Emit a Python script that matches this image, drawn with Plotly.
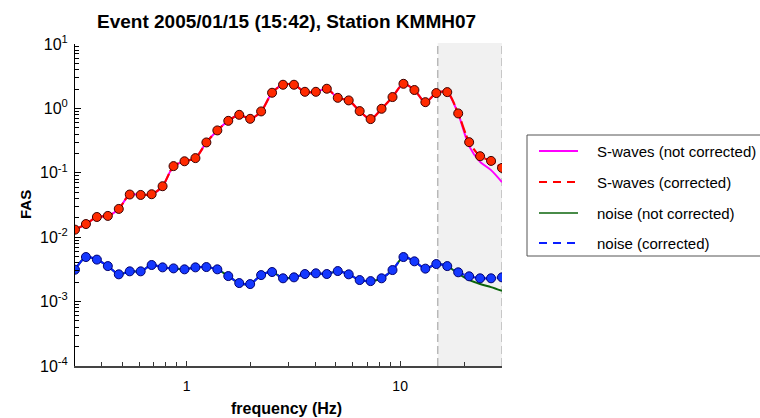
import plotly.graph_objects as go

# ---------------- data ----------------
freq = [0.3000, 0.3376, 0.3799, 0.4275, 0.4811, 0.5414, 0.6092, 0.6856, 0.7715, 0.8682,
        0.9771, 1.0995, 1.2373, 1.3924, 1.5669, 1.7633, 1.9843, 2.2330, 2.5129, 2.8278,
        3.1823, 3.5811, 4.0299, 4.5350, 5.1034, 5.7430, 6.4628, 7.2728, 8.1843, 9.2101,
        10.365, 11.664, 13.126, 14.771, 16.622, 18.706, 21.050, 23.688, 26.658, 30.000]

swave_corr = [0.0131, 0.0160, 0.0206, 0.0214, 0.0275, 0.0460, 0.0453, 0.0465, 0.0619, 0.127,
              0.151, 0.169, 0.296, 0.455, 0.641, 0.795, 0.689, 0.898, 1.75, 2.33,
              2.33, 1.81, 1.81, 2.02, 1.46, 1.33, 0.908, 0.682, 0.986, 1.50,
              2.41, 1.93, 1.25, 1.73, 1.79, 0.836, 0.299, 0.181, 0.153, 0.119]

swave_nc = [0.0131, 0.0160, 0.0206, 0.0214, 0.0275, 0.0460, 0.0453, 0.0465, 0.0619, 0.127,
            0.151, 0.169, 0.296, 0.455, 0.641, 0.795, 0.689, 0.898, 1.75, 2.33,
            2.33, 1.81, 1.81, 2.02, 1.46, 1.33, 0.908, 0.682, 0.986, 1.50,
            2.41, 1.93, 1.25, 1.73, 1.78, 0.820, 0.260, 0.148, 0.110, 0.0714]

noise_corr = [0.00313, 0.00492, 0.00449, 0.00356, 0.00265, 0.00295, 0.00295, 0.00370, 0.00340, 0.00328,
              0.00317, 0.00340, 0.00344, 0.00317, 0.00249, 0.00194, 0.00187, 0.00258, 0.00288, 0.00230,
              0.00238, 0.00268, 0.00275, 0.00268, 0.00298, 0.00265, 0.00216, 0.00208, 0.00230, 0.00309,
              0.00492, 0.00422, 0.00325, 0.00383, 0.00356, 0.00285, 0.00247, 0.00230, 0.00230, 0.00238]

noise_nc = [0.00313, 0.00492, 0.00449, 0.00356, 0.00265, 0.00295, 0.00295, 0.00370, 0.00340, 0.00328,
            0.00317, 0.00340, 0.00344, 0.00317, 0.00249, 0.00194, 0.00187, 0.00258, 0.00288, 0.00230,
            0.00238, 0.00268, 0.00275, 0.00268, 0.00298, 0.00265, 0.00216, 0.00208, 0.00230, 0.00309,
            0.00492, 0.00422, 0.00325, 0.00383, 0.00356, 0.00272, 0.00218, 0.00188, 0.00168, 0.00147]

y_tickvals = [1e-4, 1e-3, 1e-2, 1e-1, 1e0, 1e1]
y_ticktext = ["10<sup>-4</sup>", "10<sup>-3</sup>", "10<sup>-2</sup>",
              "10<sup>-1</sup>", "10<sup>0</sup>", "10<sup>1</sup>"]
x_tickvals = [1, 10]
x_ticktext = ["1", "10"]
x_minor = [0.4, 0.5, 0.6, 0.7, 0.8, 0.9, 2, 3, 4, 5, 6, 7, 8, 9, 20]
y_minor = [m * d for d in [1e-4, 1e-3, 1e-2, 1e-1, 1e0] for m in range(2, 10)]

legend_labels = ["S-waves (not corrected)", "S-waves (corrected)",
                 "noise (not corrected)", "noise (corrected)"]

band = [15, 30]

# ---------------- layout geometry ----------------
W, H = 760, 418
L, R, T, B = 75, 258, 44, 52
PW, PH = W - L - R, H - T - B


def px(x):
    return (x - L) / PW


def py(y):
    return (H - B - y) / PH


FONT = "Liberation Sans, Arial, sans-serif"

MAG = "#ff00ff"
RED = "#ff0000"
GRN = "#0b650b"
BLU = "#0a1eff"

fig = go.Figure()

fig.add_trace(go.Scatter(x=freq, y=swave_nc, mode="lines", showlegend=False,
                         line=dict(color=MAG, width=2, shape="spline", smoothing=0.8)))
fig.add_trace(go.Scatter(x=freq, y=swave_corr, mode="lines", showlegend=False,
                         line=dict(color=RED, width=2.2, shape="spline", smoothing=0.8,
                                   dash="12px,3px")))
fig.add_trace(go.Scatter(x=freq, y=noise_nc, mode="lines", showlegend=False,
                         line=dict(color=GRN, width=2, shape="spline", smoothing=0.8)))
fig.add_trace(go.Scatter(x=freq, y=noise_corr, mode="lines", showlegend=False,
                         line=dict(color=BLU, width=2.2, shape="spline", smoothing=0.8,
                                   dash="12px,3px")))
fig.add_trace(go.Scatter(x=freq, y=swave_corr, mode="markers", showlegend=False,
                         marker=dict(size=9, color="#ff2a00",
                                     line=dict(color="#3a0000", width=1))))
fig.add_trace(go.Scatter(x=freq, y=noise_corr, mode="markers", showlegend=False,
                         marker=dict(size=9, color="#1438ff",
                                     line=dict(color="#000070", width=1))))

shapes = [
    dict(type="rect", xref="x", yref="paper", x0=band[0], x1=band[1], y0=0, y1=1.003,
         fillcolor="#f1f1f1", line=dict(width=0), layer="below"),
    dict(type="line", xref="x", yref="paper", x0=band[0], x1=band[0], y0=0, y1=1.003,
         line=dict(color="#b8b8b8", width=1.5, dash="8px,4px"), layer="below"),
    dict(type="line", xref="x", yref="paper", x0=band[1], x1=band[1], y0=0, y1=1.003,
         line=dict(color="#b8b8b8", width=1.5, dash="8px,4px"), layer="below"),
    # legend box
    dict(type="rect", xref="paper", yref="paper", x0=px(527), x1=px(790),
         y0=py(256), y1=py(135), fillcolor="white", line=dict(color="#555555", width=1)),
]

leg_y = [151, 182, 213, 243]
leg_styles = [dict(color=MAG, width=2),
              dict(color=RED, width=2, dash="8px,6px"),
              dict(color=GRN, width=1.5),
              dict(color=BLU, width=2, dash="8px,6px")]
annotations = []
for lbl, yy, st in zip(legend_labels, leg_y, leg_styles):
    shapes.append(dict(type="line", xref="paper", yref="paper", x0=px(539), x1=px(578),
                       y0=py(yy), y1=py(yy), line=st))
    annotations.append(dict(xref="paper", yref="paper", x=px(595), y=py(yy),
                            xanchor="left", yanchor="middle", showarrow=False, text=lbl,
                            font=dict(family=FONT, size=15, color="black")))

annotations += [
    dict(xref="paper", yref="paper", x=px(286), y=py(21), xanchor="center", yanchor="middle",
         showarrow=False, text="<b>Event 2005/01/15 (15:42), Station KMMH07</b>",
         font=dict(family=FONT, size=19, color="black")),
    dict(xref="paper", yref="paper", x=px(286), y=py(408), xanchor="center", yanchor="middle",
         showarrow=False, text="<b>frequency (Hz)</b>",
         font=dict(family=FONT, size=16, color="black")),
    dict(xref="paper", yref="paper", x=px(25), y=py(205), xanchor="center", yanchor="middle",
         showarrow=False, text="<b>FAS</b>", textangle=-90,
         font=dict(family=FONT, size=15, color="black")),
]

fig.update_layout(
    width=W, height=H,
    margin=dict(l=L, r=R, t=T, b=B, autoexpand=False),
    paper_bgcolor="white", plot_bgcolor="white",
    showlegend=False,
    shapes=shapes, annotations=annotations,
    font=dict(family=FONT, size=14, color="black"),
    xaxis=dict(type="log", range=[-0.52288, 1.47712], tickmode="array",
               tickvals=x_tickvals, ticktext=x_ticktext, ticks="inside", ticklen=5,
               tickcolor="#333333", showline=True, linecolor="#444444", linewidth=1.5,
               showgrid=False, zeroline=False, ticklabelstandoff=6,
               tickfont=dict(family=FONT, size=14, color="black"),
               minor=dict(tickmode="array", tickvals=x_minor, ticks="inside", ticklen=4,
                          tickcolor="#333333", tickwidth=1, showgrid=False)),
    yaxis=dict(type="log", range=[-4, 1], tickmode="array",
               tickvals=y_tickvals, ticktext=y_ticktext, ticks="inside", ticklen=6,
               tickcolor="black", showline=True, linecolor="black", linewidth=1,
               showgrid=False, zeroline=False, ticklabelstandoff=3,
               tickfont=dict(family=FONT, size=16, color="black"),
               minor=dict(tickmode="array", tickvals=y_minor, ticks="inside", ticklen=4,
                          tickcolor="black", tickwidth=1, showgrid=False)),
)

fig.write_html("out.html")
